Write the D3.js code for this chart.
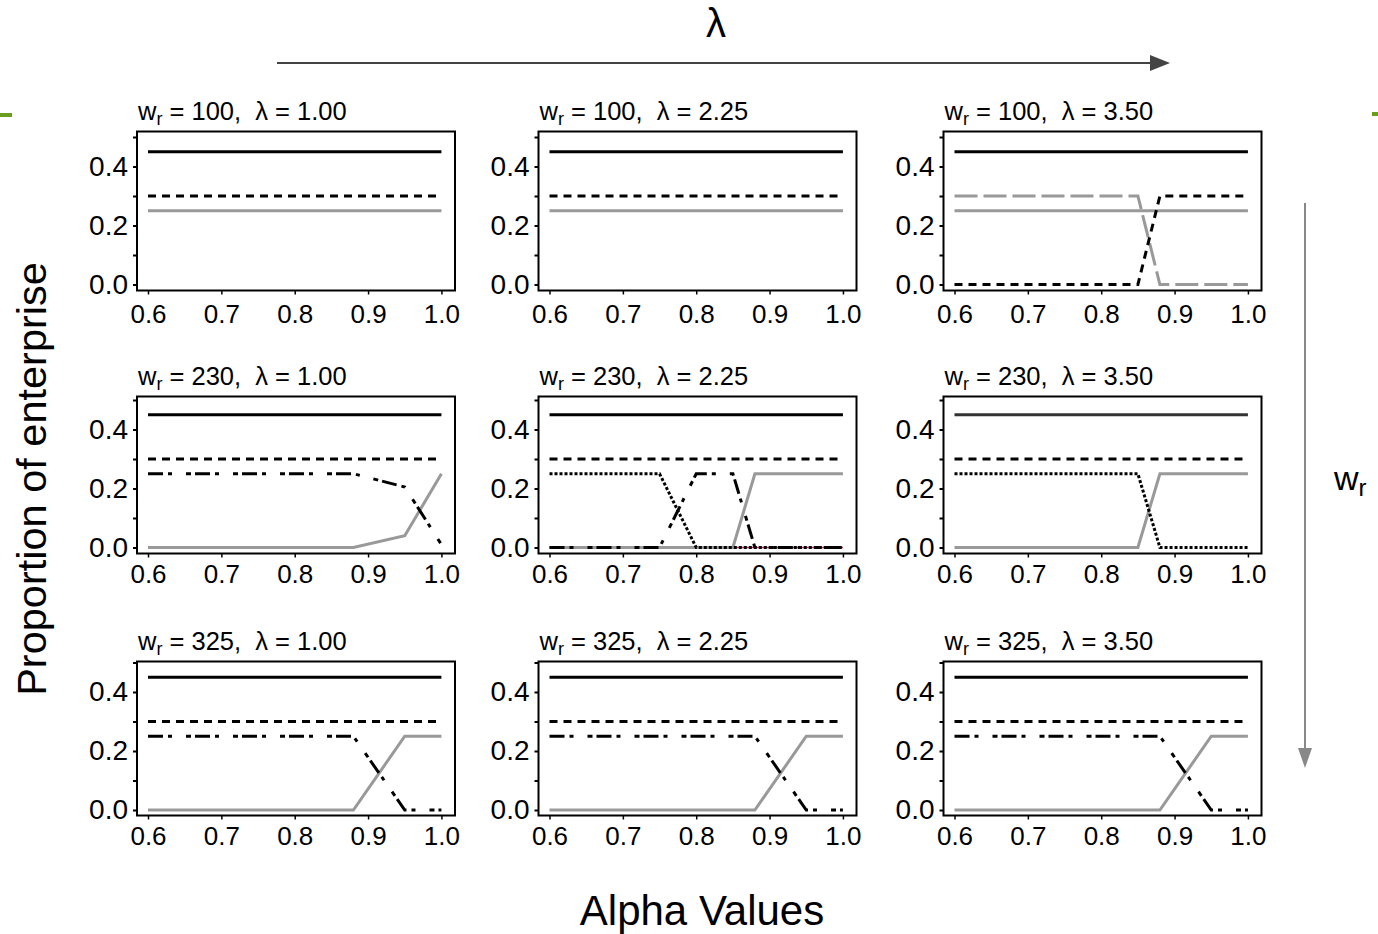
<!DOCTYPE html>
<html>
<head>
<meta charset="utf-8">
<script src="https://cdn.jsdelivr.net/npm/d3@7"></script>
<style>
  body { margin: 0; background: #fff; }
  text { font-family: "Liberation Sans", Arial, sans-serif; fill: #000; }
</style>
</head>
<body>
<script>
// alpha grid where the curves change
var alpha = [0.6, 0.75, 0.8, 0.85, 0.88, 0.95, 1.0];

var wrValues = [100, 230, 325];
var lambdaValues = ["1.00", "2.25", "3.50"];

var xTicks = [0.6, 0.7, 0.8, 0.9, 1.0];
var yTicks = [0, 0.1, 0.2, 0.3, 0.4, 0.5];

// series values at each alpha
var top045   = [0.45, 0.45, 0.45, 0.45, 0.45, 0.45, 0.45];
var mid030   = [0.30, 0.30, 0.30, 0.30, 0.30, 0.30, 0.30];
var flat025  = [0.25, 0.25, 0.25, 0.25, 0.25, 0.25, 0.25];
var zero     = [0, 0, 0, 0, 0, 0, 0];
var fall088  = [0.30, 0.30, 0.30, 0.30, 0, 0, 0];
var rise088  = [0, 0, 0, 0, 0.30, 0.30, 0.30];
var ddSlow   = [0.25, 0.25, 0.25, 0.25, 0.25, 0.205, 0.01];
var grSlow   = [0, 0, 0, 0, 0, 0.04, 0.25];
var dotEarly = [0.25, 0.25, 0, 0, 0, 0, 0];
var ddBump   = [0, 0, 0.25, 0.25, 0, 0, 0];
var grRise   = [0, 0, 0, 0, 0.25, 0.25, 0.25];
var dotLate  = [0.25, 0.25, 0.25, 0.25, 0, 0, 0];
var ddFall   = [0.25, 0.25, 0.25, 0.25, 0.25, 0, 0];
var grLate   = [0, 0, 0, 0, 0, 0.25, 0.25];

var styles = {
  solid:   { stroke: "#000", width: 3, dash: null },
  solid2:  { stroke: "#333", width: 3, dash: null },
  dashed:  { stroke: "#000", width: 3, dash: "8,6" },
  gray:    { stroke: "#999", width: 3, dash: null },
  grayLong:{ stroke: "#999", width: 3, dash: "23,6" },
  dashdot: { stroke: "#000", width: 3, dash: "15,5,4,14,5,4" },
  dotted:  { stroke: "#000", width: 3, dash: "3,2" },
  pink:    { stroke: "#c03070", width: 1.5, dash: null }
};

// panels, row by row
var panels = [
  [[top045, "solid"], [mid030, "dashed"], [flat025, "gray"]],
  [[top045, "solid"], [mid030, "dashed"], [flat025, "gray"]],
  [[top045, "solid"], [flat025, "gray"], [fall088, "grayLong"], [rise088, "dashed"]],
  [[top045, "solid"], [mid030, "dashed"], [grSlow, "gray"], [ddSlow, "dashdot"]],
  [[top045, "solid"], [mid030, "dashed"], [zero, "pink"], [grRise, "gray"], [dotEarly, "dotted"], [ddBump, "dashdot"]],
  [[top045, "solid2"], [mid030, "dashed"], [grRise, "gray"], [dotLate, "dotted"]],
  [[top045, "solid"], [mid030, "dashed"], [grLate, "gray"], [ddFall, "dashdot"]],
  [[top045, "solid"], [mid030, "dashed"], [grLate, "gray"], [ddFall, "dashdot"]],
  [[top045, "solid"], [mid030, "dashed"], [grLate, "gray"], [ddFall, "dashdot"]]
];

var W = 1378, H = 934;
var colX = [137, 538.5, 943.5];
var rowY = [131.5, 396.5, 661.5];
var rowH = [159, 157, 154];
var zeroOff = [153, 151, 148.5];
var pw = 318;

var svg = d3.select("body").append("svg")
  .attr("width", W)
  .attr("height", H);

var x = d3.scaleLinear().domain([0.585, 1.0185]).range([0, pw]);

panels.forEach(function(series, k) {
  var r = Math.floor(k / 3), c = k % 3;
  var ph = rowH[r];
  var y = d3.scaleLinear().domain([0, 0.4]).range([zeroOff[r], zeroOff[r] - 118]);
  var line = d3.line()
    .x(function(d, i) { return x(alpha[i]); })
    .y(function(d) { return y(d); });

  var g = svg.append("g").attr("transform", "translate(" + colX[c] + "," + rowY[r] + ")");

  // title
  var t = g.append("text")
    .attr("x", 1)
    .attr("y", -12)
    .attr("font-size", "25.5px")
    .style("white-space", "pre");
  t.append("tspan").text("w");
  t.append("tspan").attr("font-size", "18px").attr("dy", 5).text("r");
  t.append("tspan").attr("dy", -5).text(" = " + wrValues[r] + ",  \u03bb = " + lambdaValues[c]);

  series.forEach(function(s) {
    var st = styles[s[1]];
    g.append("path")
      .datum(s[0])
      .attr("d", line)
      .attr("fill", "none")
      .attr("stroke", st.stroke)
      .attr("stroke-width", st.width)
      .attr("stroke-dasharray", st.dash);
  });

  g.append("rect")
    .attr("width", pw)
    .attr("height", ph)
    .attr("fill", "none")
    .attr("stroke", "#000")
    .attr("stroke-width", 2);

  var ya = g.append("g")
    .call(d3.axisLeft(y).tickValues(yTicks).tickSize(4).tickPadding(5)
      .tickFormat(function(d) { return Math.round(d * 10) % 2 === 0 ? d3.format(".1f")(d) : ""; }));
  ya.select(".domain").remove();
  ya.selectAll("line").attr("stroke-width", 2);
  ya.selectAll("text").attr("font-size", "28px").attr("font-family", "Liberation Sans, Arial, sans-serif");

  var xa = g.append("g")
    .attr("transform", "translate(0," + ph + ")")
    .call(d3.axisBottom(x).tickValues(xTicks).tickSize(4).tickPadding(r === 0 ? 10 : 7).tickFormat(d3.format(".1f")));
  xa.select(".domain").remove();
  xa.selectAll("line").attr("stroke-width", 1.5);
  xa.selectAll("text").attr("font-size", "26px").attr("font-family", "Liberation Sans, Arial, sans-serif");
});

// axis titles
svg.append("text")
  .attr("transform", "translate(46,479) rotate(-90)")
  .attr("text-anchor", "middle")
  .attr("font-size", "41.5px")
  .text("Proportion of enterprise");

svg.append("text")
  .attr("x", 702)
  .attr("y", 925)
  .attr("text-anchor", "middle")
  .attr("font-size", "42px")
  .text("Alpha Values");

// lambda arrow
svg.append("text")
  .attr("x", 716)
  .attr("y", 37)
  .attr("text-anchor", "middle")
  .attr("font-size", "40px")
  .text("\u03bb");

svg.append("line")
  .attr("x1", 277).attr("y1", 63)
  .attr("x2", 1155).attr("y2", 63)
  .attr("stroke", "#444")
  .attr("stroke-width", 2);
svg.append("path")
  .attr("d", "M1170,63 L1150,55 L1150,71 Z")
  .attr("fill", "#444");

// w_r arrow
svg.append("line")
  .attr("x1", 1305).attr("y1", 203)
  .attr("x2", 1305).attr("y2", 752)
  .attr("stroke", "#888")
  .attr("stroke-width", 2);
svg.append("path")
  .attr("d", "M1305,768 L1298,748 L1312,748 Z")
  .attr("fill", "#888");

var wl = svg.append("text")
  .attr("x", 1334)
  .attr("y", 490)
  .attr("font-size", "34px");
wl.append("tspan").text("w");
wl.append("tspan").attr("font-size", "24px").attr("dy", 6).text("r");

// green slide marks
svg.append("rect").attr("x", 0).attr("y", 113).attr("width", 12).attr("height", 4).attr("fill", "#6a9e1f");
svg.append("rect").attr("x", 1372).attr("y", 112).attr("width", 6).attr("height", 4).attr("fill", "#6a9e1f");
</script>
</body>
</html>
